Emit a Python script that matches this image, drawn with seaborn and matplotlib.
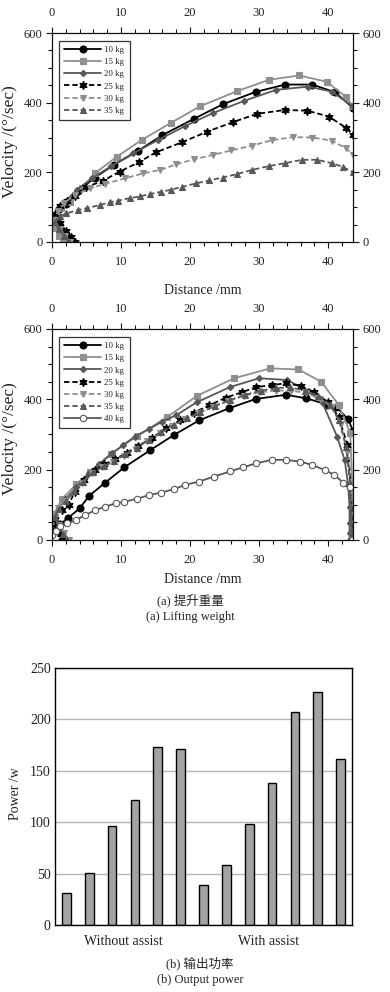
import numpy as np
import pandas as pd
import matplotlib
matplotlib.use('Agg')
import matplotlib.pyplot as plt
import seaborn as sns
from matplotlib.ticker import MultipleLocator

# ---- (a) Lifting weight, upper panel: distance (mm) / velocity (deg/sec) ----
dist1_10 = [2.4, 1.5, 0.7, 0.3, 1.0, 2.1, 3.7, 6.2, 9.0, 12.5, 16.0, 20.5, 24.7, 29.5, 33.8, 37.7, 41.0, 43.6]
vel1_10 = [0, 20, 42, 70, 95, 110, 145, 185, 222, 262, 307, 353, 395, 431, 452, 452, 430, 385]
dist1_15 = [1.6, 1.0, 0.4, 0.3, 1.3, 2.6, 4.4, 6.2, 9.4, 13.0, 17.3, 21.5, 26.8, 31.5, 35.8, 39.8, 42.6, 43.6]
vel1_15 = [0, 18, 40, 68, 98, 116, 155, 197, 245, 293, 343, 390, 433, 466, 478, 460, 416, 389]
dist1_20 = [2.8, 2.0, 1.1, 0.4, 0.9, 2.0, 3.6, 5.8, 8.6, 11.8, 15.3, 19.2, 23.3, 27.8, 32.5, 37.1, 40.5, 43.6]
vel1_20 = [0, 16, 40, 68, 95, 118, 150, 183, 218, 255, 292, 332, 370, 405, 437, 446, 432, 389]
dist1_25 = [3.4, 2.8, 2.0, 1.1, 0.4, 1.2, 2.2, 3.3, 4.9, 7.4, 9.8, 12.6, 15.0, 18.8, 22.5, 26.2, 29.7, 33.7,
            37.0, 40.1, 42.6, 43.6]
vel1_25 = [0, 14, 33, 55, 80, 103, 118, 133, 157, 176, 202, 229, 257, 286, 317, 344, 368, 379, 377, 360, 328, 307]
dist1_30 = [2.6, 1.9, 1.1, 0.4, 0.8, 1.8, 3.3, 5.5, 7.7, 10.6, 13.2, 15.7, 18.0, 20.5, 23.3, 26.0, 29.0, 31.8,
            34.9, 37.7, 40.5, 42.6, 43.6]
vel1_30 = [0, 18, 38, 62, 88, 112, 135, 154, 167, 183, 197, 207, 223, 237, 250, 263, 277, 292, 301, 300, 291, 269, 250]
dist1_35 = [2.5, 1.8, 1.0, 0.4, 1.1, 2.1, 3.8, 5.0, 6.9, 8.4, 9.6, 11.3, 12.8, 14.2, 15.8, 17.2, 18.8, 20.8,
            22.8, 24.7, 26.8, 29.0, 31.4, 33.7, 36.2, 38.4, 40.6, 42.2, 43.6]
vel1_35 = [0, 16, 36, 58, 74, 82, 92, 97, 106, 114, 119, 126, 131, 138, 144, 150, 158, 168, 177, 185, 195, 207,
           218, 226, 236, 236, 226, 215, 200]

# ---- (a) lower panel ----
dist2_10 = [1.5, 0.8, 1.2, 2.3, 4.0, 5.4, 7.7, 10.5, 14.2, 17.6, 21.3, 25.7, 29.5, 33.9, 36.8, 39.9, 41.2, 42.9, 43.6]
vel2_10 = [0, 25, 45, 62, 90, 126, 163, 207, 255, 298, 340, 375, 401, 413, 403, 385, 378, 343, 310]
dist2_15 = [2.0, 1.2, 0.5, 0.3, 1.5, 3.5, 5.5, 8.5, 12.3, 16.7, 21.0, 26.4, 31.6, 35.7, 39.0, 41.5, 43.2, 43.5, 43.5]
vel2_15 = [0, 20, 45, 75, 118, 158, 193, 245, 295, 350, 410, 460, 488, 485, 450, 385, 305, 150, 0]
dist2_20 = [2.3, 1.6, 0.8, 0.3, 1.0, 1.9, 3.5, 5.3, 6.8, 8.7, 10.3, 12.0, 14.0, 15.9, 18.0, 21.0, 25.8, 30.0,
            34.0, 37.1, 39.2, 41.3, 42.4, 42.9, 43.1, 43.1, 43.1, 43.1]
vel2_20 = [0, 20, 45, 66, 90, 116, 150, 190, 215, 246, 270, 294, 315, 336, 355, 392, 435, 460, 455, 425, 389,
           294, 227, 156, 94, 47, 19, 0]
dist2_25 = [2.0, 1.3, 0.6, 0.4, 1.4, 2.4, 3.3, 4.6, 6.2, 7.6, 9.1, 10.8, 12.5, 14.5, 16.5, 18.5, 20.5, 22.8,
            25.2, 27.5, 29.6, 31.8, 33.9, 36.0, 38.0, 40.0, 41.5, 42.8, 43.3, 43.5]
vel2_25 = [0, 18, 38, 60, 85, 100, 137, 170, 199, 215, 229, 248, 268, 290, 318, 340, 362, 383, 405, 420, 435,
           440, 446, 438, 420, 392, 350, 270, 150, 0]
dist2_30 = [2.5, 1.8, 1.0, 0.5, 0.9, 1.9, 3.0, 4.3, 5.8, 7.3, 8.8, 10.4, 12.1, 13.8, 15.6, 17.4, 19.3, 21.2,
            23.3, 25.5, 27.8, 30.1, 32.4, 34.6, 36.8, 38.8, 40.5, 41.8, 42.8, 43.3, 43.4]
vel2_30 = [0, 20, 42, 66, 90, 112, 135, 162, 190, 207, 222, 240, 260, 282, 303, 325, 343, 360, 378, 395, 410,
           420, 425, 425, 418, 402, 378, 330, 250, 140, 0]
dist2_35 = [2.2, 1.6, 0.9, 0.4, 1.0, 2.0, 3.2, 4.5, 6.0, 7.5, 9.0, 10.6, 12.3, 14.0, 15.8, 17.6, 19.5, 21.5,
            23.6, 25.8, 28.0, 30.3, 32.5, 34.5, 36.6, 38.6, 40.3, 41.6, 42.6, 43.2, 43.4]
vel2_35 = [0, 18, 40, 64, 88, 110, 138, 165, 192, 210, 225, 244, 263, 285, 306, 326, 346, 364, 382, 398, 413,
           425, 432, 434, 425, 410, 385, 340, 265, 160, 0]
dist2_40 = [0.0, 0.6, 1.2, 2.2, 3.5, 4.8, 6.3, 7.7, 9.2, 10.5, 12.3, 14.1, 15.8, 17.6, 19.3, 21.3, 23.4, 25.8,
            27.7, 29.6, 31.8, 33.9, 35.9, 37.6, 39.5, 40.9, 42.2, 43.1, 43.5]
vel2_40 = [14, 27, 40, 47, 57, 71, 85, 95, 104, 109, 117, 128, 135, 144, 157, 166, 180, 195, 207, 218, 228,
           228, 223, 214, 199, 185, 163, 152, 0]

# ---- (b) Output power ----
power_without = [31, 51, 96, 122, 173, 171]
power_with = [39, 58, 98, 138, 207, 227, 161]
group_labels = ['Without assist', 'With assist']

BLACK = '#000000'
GRAY = '#8f8f8f'
DARK = '#585858'
styles = {
    '10 kg': dict(color=BLACK, marker='o', ls='-', ms=5.0, mfc=BLACK),
    '15 kg': dict(color=GRAY, marker='s', ls='-', ms=4.6, mfc=GRAY),
    '20 kg': dict(color=DARK, marker='D', ls='-', ms=3.2, mfc=DARK),
    '25 kg': dict(color=BLACK, marker=(6, 1, 0), ls=(0, (3, 1.6)), ms=6.0, mfc=BLACK),
    '30 kg': dict(color=GRAY, marker='v', ls=(0, (3, 1.6)), ms=5.0, mfc=GRAY),
    '35 kg': dict(color=DARK, marker='^', ls=(0, (3, 1.6)), ms=5.0, mfc=DARK),
    '40 kg': dict(color=DARK, marker='o', ls='-', ms=4.6, mfc='white'),
}

sns.set_style('ticks')
plt.rcParams['font.family'] = ['Liberation Serif', 'Noto Sans CJK SC']
plt.rcParams['text.color'] = '#222222'
plt.rcParams['axes.labelcolor'] = '#222222'
plt.rcParams['xtick.color'] = '#222222'
plt.rcParams['ytick.color'] = '#222222'
plt.rcParams['axes.edgecolor'] = '#111111'

W, H = 390, 992
fig = plt.figure(figsize=(W / 100, H / 100), dpi=100)


def box(left, top, right, bottom):
    return [left / W, 1 - bottom / H, (right - left) / W, (bottom - top) / H]


def velocity_panel(ax, series, xlabel_y):
    for name, (d, v) in series.items():
        st = styles[name]
        sns.lineplot(x=np.array(d), y=np.array(v), sort=False, estimator=None, ax=ax, label=name,
                     color=st['color'], linestyle=st['ls'], linewidth=1.3, marker=st['marker'],
                     markersize=st['ms'], markerfacecolor=st['mfc'], markeredgecolor=st['color'],
                     markeredgewidth=0.8)
    ax.set_xlim(0, 43.6)
    ax.set_ylim(0, 600)
    ax.xaxis.set_major_locator(MultipleLocator(10))
    ax.xaxis.set_minor_locator(MultipleLocator(2))
    ax.yaxis.set_major_locator(MultipleLocator(200))
    ax.yaxis.set_minor_locator(MultipleLocator(50))
    ax.tick_params(which='both', direction='out', top=True, right=True, labeltop=True, labelright=True,
                   labelsize=9, width=0.8, color='#111111')
    ax.tick_params(which='major', length=4)
    ax.tick_params(which='minor', length=3)
    ax.tick_params(axis='x', pad=6)
    ax.tick_params(axis='y', pad=3)
    for s in ax.spines.values():
        s.set_linewidth(0.9)
    ax.set_xlabel('Distance /mm', fontsize=10)
    ax.xaxis.set_label_coords(0.5, xlabel_y)
    ax.set_ylabel('Velocity /(°/sec)', fontsize=12.5)
    ax.yaxis.set_label_coords(-0.112, 0.48)
    leg = ax.legend(loc='upper left', bbox_to_anchor=(0.023, 0.962), fontsize=6.3, frameon=True,
                    fancybox=False, edgecolor='#333333', framealpha=1, handlelength=4.2,
                    handletextpad=0.4, labelspacing=0.45, borderpad=0.6, borderaxespad=0)
    leg.get_frame().set_linewidth(0.9)


ax1 = fig.add_axes(box(52, 33, 353, 242))
velocity_panel(ax1, {
    '10 kg': (dist1_10, vel1_10), '15 kg': (dist1_15, vel1_15), '20 kg': (dist1_20, vel1_20),
    '25 kg': (dist1_25, vel1_25), '30 kg': (dist1_30, vel1_30), '35 kg': (dist1_35, vel1_35),
}, -0.2)

ax2 = fig.add_axes(box(52, 329, 353, 540))
velocity_panel(ax2, {
    '10 kg': (dist2_10, vel2_10), '15 kg': (dist2_15, vel2_15), '20 kg': (dist2_20, vel2_20),
    '25 kg': (dist2_25, vel2_25), '30 kg': (dist2_30, vel2_30), '35 kg': (dist2_35, vel2_35),
    '40 kg': (dist2_40, vel2_40),
}, -0.155)

fig.text(190 / W, 1 - 600 / H, '(a) 提升重量', ha='center', va='center', fontsize=9)
fig.text(190 / W, 1 - 617 / H, '(a) Lifting weight', ha='center', va='center', fontsize=9)

# bar chart
ax3 = fig.add_axes(box(55, 668, 352, 925))
power = power_without + power_with
bars = pd.DataFrame({'bar': np.arange(len(power)), 'power': power})
sns.barplot(data=bars, x='bar', y='power', color='#a3a3a3', saturation=1, edgecolor='black',
            linewidth=1.0, width=0.38, ax=ax3)
ax3.set_xlim(-0.5, len(power) - 0.5)
ax3.set_ylim(0, 250)
ax3.set_yticks(range(0, 251, 50))
ax3.set_xticks([(len(power_without) - 1) / 2, 8.85])
ax3.set_xticklabels(group_labels)
ax3.tick_params(length=0, labelsize=10)
ax3.tick_params(axis='x', pad=7)
ax3.tick_params(axis='y', pad=3)
ax3.yaxis.grid(True, color='#b5b5b5', linewidth=1)
ax3.set_axisbelow(True)
for s in ax3.spines.values():
    s.set_linewidth(1.0)
    s.set_color('black')
ax3.set_xlabel('')
ax3.set_ylabel('Power /w', fontsize=10)
ax3.yaxis.set_label_coords(-0.11, 0.51)

fig.text(200 / W, 1 - 963 / H, '(b) 输出功率', ha='center', va='center', fontsize=9)
fig.text(200 / W, 1 - 980 / H, '(b) Output power', ha='center', va='center', fontsize=9)

fig.savefig('out.png', dpi=100, facecolor='white')
